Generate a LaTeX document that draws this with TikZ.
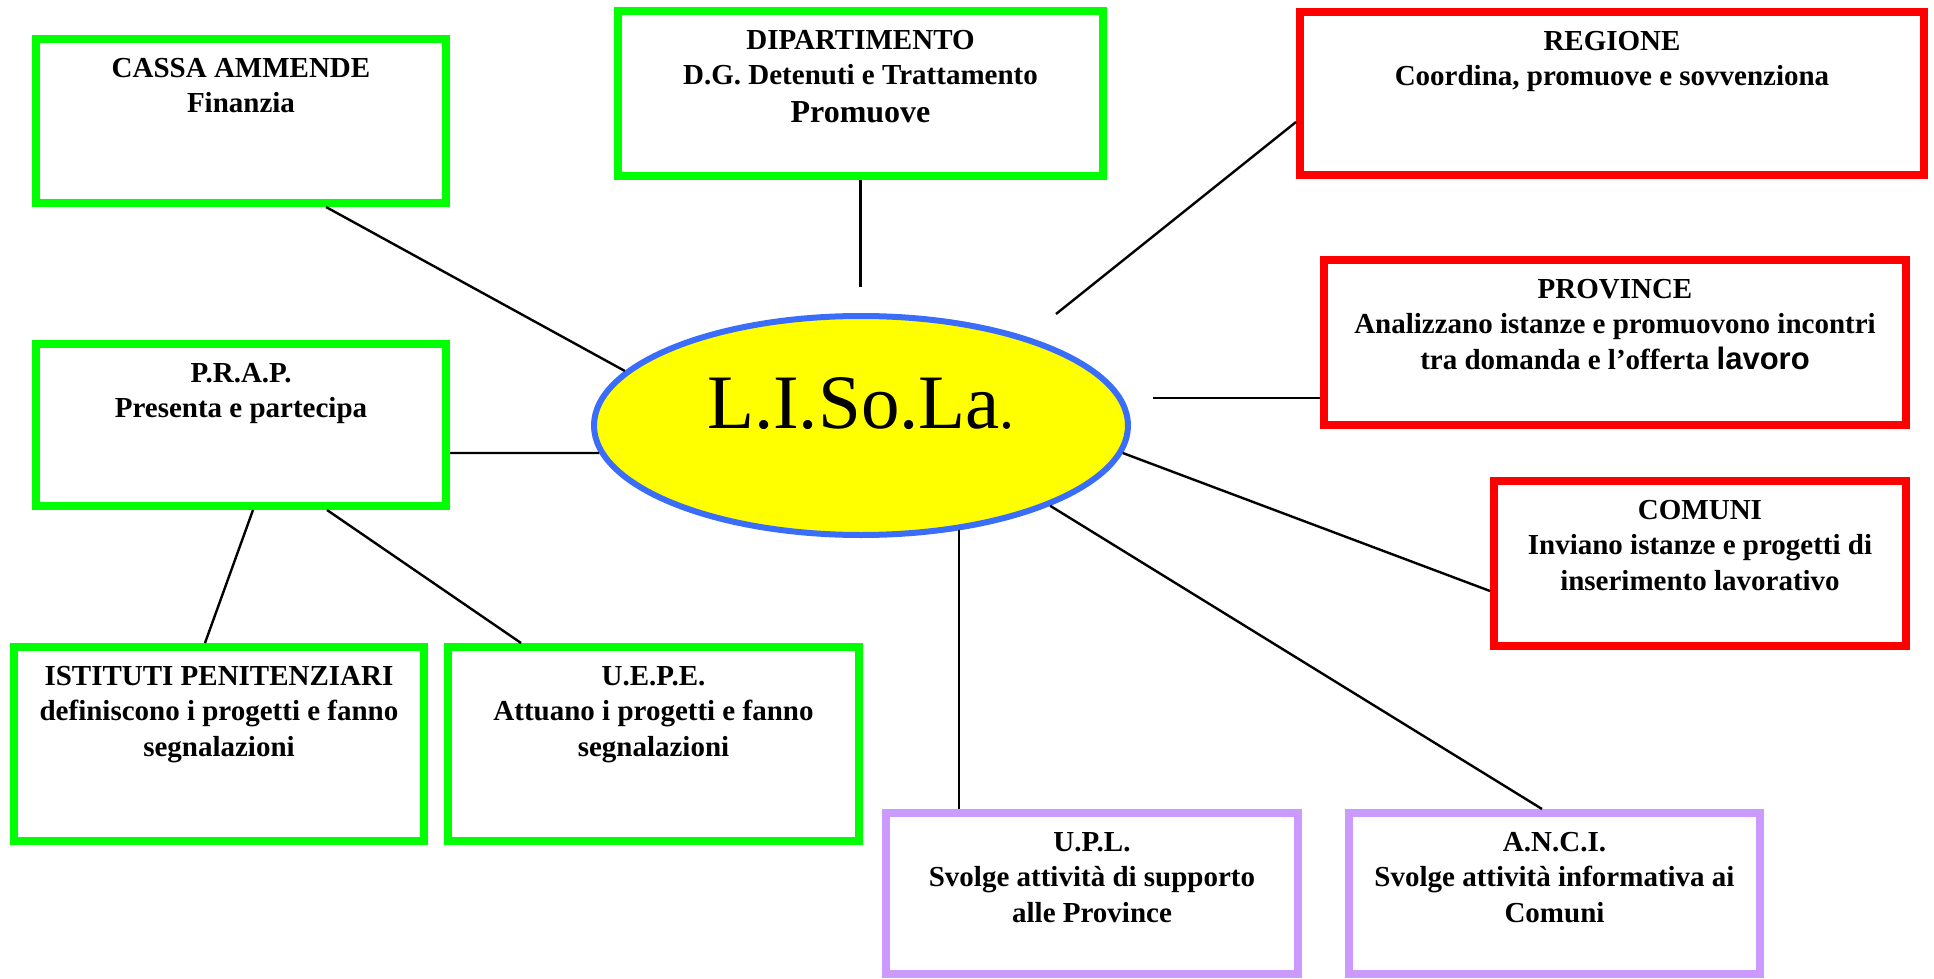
\documentclass[tikz,border=0pt]{standalone}
\usepackage{fontspec}
\setmainfont{Liberation Serif}
\newfontfamily\arialb{Liberation Sans}
\usetikzlibrary{shapes.geometric,calc}
\definecolor{gboxc}{RGB}{0,255,0}
\definecolor{rboxc}{RGB}{255,0,0}
\definecolor{pboxc}{RGB}{204,153,255}
\definecolor{ellb}{RGB}{58,110,250}
\definecolor{ellfill}{RGB}{255,255,0}
\begin{document}
\begin{tikzpicture}[x=0.5pt,y=-0.5pt,
  box/.style={draw, line width=3.8pt, inner sep=0pt, rectangle},
  gbox/.style={box, draw=gboxc},
  rbox/.style={box, draw=rboxc},
  pbox/.style={box, draw=pboxc},
  boxtext/.style={anchor=north, align=center, inner sep=0pt, font=\bfseries\fontsize{14.5}{17.75}\selectfont},
  conn/.style={draw=black, line width=1.2pt}]
\useasboundingbox (0,0) rectangle (1934,979);

% boxes
\node[gbox, minimum width=205.2pt, minimum height=82.2pt] (cassa) at (241,121) {};
\node[gbox, minimum width=205.2pt, minimum height=81.2pt] (prap) at (241,425) {};
\node[gbox, minimum width=242.7pt, minimum height=82.7pt] (dip) at (860.5,93.5) {};
\node[rbox, minimum width=312.2pt, minimum height=81.7pt] (regione) at (1612,93.5) {};
\node[rbox, minimum width=291.2pt, minimum height=82.7pt] (province) at (1615,342.5) {};
\node[rbox, minimum width=206.2pt, minimum height=82.7pt] (comuni) at (1700,563.5) {};
\node[gbox, minimum width=205.2pt, minimum height=97.2pt] (istituti) at (219,744) {};
\node[gbox, minimum width=205.7pt, minimum height=97.2pt] (uepe) at (653.5,744) {};
\node[pbox, minimum width=206.2pt, minimum height=80.7pt] (upl) at (1092,893.5) {};
\node[pbox, minimum width=205.7pt, minimum height=80.7pt] (anci) at (1554.5,893.5) {};

% box texts
\node[boxtext] (cassat) at ($(cassa.north)+(0,17)$) {\strut CASSA AMMENDE\\Finanzia};
\node[boxtext] (prapt) at ($(prap.north)+(0,17)$) {\strut P.R.A.P.\\Presenta e partecipa};
\node[boxtext] (dipt) at ($(dip.north)+(0,17)$) {\strut DIPARTIMENTO\\D.G. Detenuti e Trattamento\\[1pt]{\fontsize{16}{19}\selectfont Promuove}};
\node[boxtext] (regionet) at ($(regione.north)+(0,17)$) {\strut REGIONE\\Coordina, promuove e sovvenziona};
\node[boxtext] (provincet) at ($(province.north)+(0,17)$) {\strut PROVINCE\\Analizzano istanze e promuovono incontri\\tra domanda e l’offerta {\arialb\fontsize{15.5}{17.75}\selectfont lavoro}};
\node[boxtext] (comunit) at ($(comuni.north)+(0,17)$) {\strut COMUNI\\Inviano istanze e progetti di\\inserimento lavorativo};
\node[boxtext] (istitutit) at ($(istituti.north)+(0,17)$) {\strut ISTITUTI PENITENZIARI\\definiscono i progetti e fanno\\segnalazioni};
\node[boxtext] (uepet) at ($(uepe.north)+(0,17)$) {\strut U.E.P.E.\\Attuano i progetti e fanno\\segnalazioni};
\node[boxtext] (uplt) at ($(upl.north)+(0,17)$) {\strut U.P.L.\\Svolge attività di supporto\\alle Province};
\node[boxtext] (ancit) at ($(anci.north)+(0,17)$) {\strut A.N.C.I.\\Svolge attività informativa ai\\Comuni};

% central ellipse
\node[ellipse, draw=ellb, fill=ellfill, line width=3pt, inner sep=0pt,
      minimum width=267pt, minimum height=109.5pt] (lisola) at (861,425.5) {};
\node[anchor=base, inner sep=0pt, font=\fontsize{38.5}{38.5}\selectfont] (lisolat) at (861,428)
  {L.I.So.La{\fontsize{30}{30}\selectfont.}};

% free ends
\coordinate (dipend) at (860.5,287);
\coordinate (regend) at (1056,314);
\coordinate (provend) at (1153,398);

% connectors
\draw[conn] ($(cassa.south)+(85,0)$) -- (lisola.167);
\draw[conn] (dip.south) -- (dipend);
\draw[conn] ($(regione.west)+(0,28.5)$) -- (regend);
\draw[conn] ($(province.west)+(0,55.5)$) -- (provend);
\draw[conn] (lisola.-6) -- ($(comuni.west)+(0,27.5)$);
\draw[conn] (lisola.-23) -- ($(anci.north)+(-12.5,0)$);
\draw[conn] (lisola.-47.4) -- (lisola.-47.4 |- upl.north);
\draw[conn] ($(prap.east)+(0,28)$) -- (lisola.186);
\draw[conn] ($(prap.south)+(12,0)$) -- ($(istituti.north)+(-14,0)$);
\draw[conn] ($(prap.south)+(86,0)$) -- ($(uepe.north)+(-132.5,0)$);
\end{tikzpicture}
\end{document}
